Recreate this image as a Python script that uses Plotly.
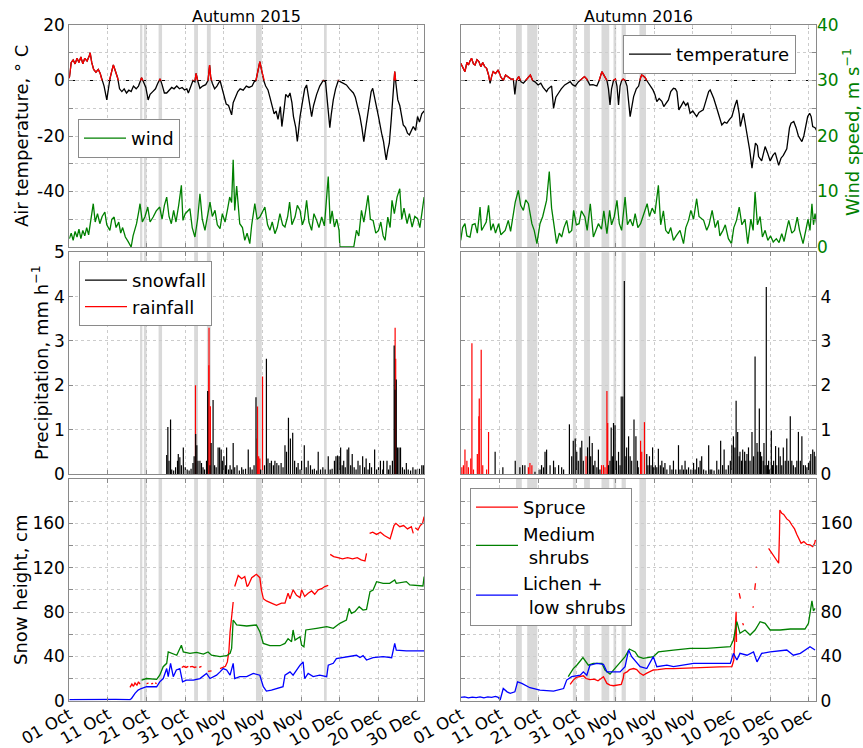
import pandas as pd
import plotly.graph_objects as go

# ---------------- data (day offset from 01 Oct, value) ----------------
temp15 = [(0,0.8),(0.5,6.5),(1.0,7.4),(1.5,6.0),(2.0,8.0),(2.5,6.5),(3.0,8.5),(3.5,6.0),(4.0,8.0),(4.6,7.0),
          (5.2,9.0),(5.4,10.0),(5.8,6.5),(6.3,4.0),(6.9,3.0),(7.5,4.0),(8.0,2.5),(8.6,0.0),(9.0,-2.0),(9.7,-7.0),
          (10.2,-1.0),(10.5,0.5),(11.0,3.5),(11.4,5.6),(11.9,3.5),(12.5,1.0),(13.0,-3.0),(13.6,-4.0),(14.2,-3.0),
          (14.8,-4.5),(15.4,-3.5),(16.0,-4.0),(16.6,-2.0),(17.3,-3.0),(17.9,-2.0),(18.4,0.2),(18.7,1.0),(19.2,-0.5),
          (19.8,-2.5),(20.4,-7.0),(20.9,-5.0),(21.6,-4.0),(22.3,-3.0),(22.9,-1.0),(23.5,0.6),(24.0,-1.5),(24.6,-4.5),
          (25.2,-4.5),(25.8,-3.5),(26.5,-2.5),(27.1,-3.0),(27.8,-2.0),(28.5,-3.0),(29.2,-2.5),(29.8,-3.4),(30.4,-3.0),
          (30.8,-4.5),(31.4,-2.0),(32.0,0.0),(32.5,-0.5),(32.8,2.6),(33.2,0.0),(33.8,-2.8),(34.5,-2.0),(35.3,-1.5),
          (35.9,0.0),(36.3,5.6),(36.6,1.0),(37.0,-1.0),(37.6,-3.0),(38.2,-2.0),(39.0,0.0),(39.6,-3.0),(40.0,-6.0),
          (40.6,-8.5),(41.2,-9.0),(42.0,-12.4),(42.4,-8.0),(42.9,-6.0),(43.6,-4.0),(44.2,-3.0),(45.0,-3.5),(45.8,-2.0),
          (46.5,-2.5),(47.3,-2.0),(47.8,-0.5),(48.3,0.0),(48.8,3.0),(49.3,6.8),(49.8,3.5),(50.3,0.0),(50.8,-2.0),
          (51.4,-3.4),(51.9,-6.0),(52.5,-9.0),(53.0,-12.0),(53.5,-11.0),(54.0,-14.0),(54.6,-9.4),(55.0,-16.6),
          (55.6,-10.0),(56.0,-5.0),(56.6,-6.0),(57.1,-4.5),(57.6,-8.0),(58.0,-13.0),(58.6,-17.0),(59.0,-22.0),
          (59.4,-17.0),(59.7,-13.0),(60.3,-8.0),(60.9,-3.0),(61.4,-1.6),(61.9,-6.0),(62.3,-10.0),(62.7,-13.0),
          (63.2,-9.0),(63.6,-7.0),(64.0,-5.0),(64.8,-2.0),(65.4,-0.5),(65.7,0.0),(66.3,-0.5),(66.8,-8.0),(67.4,-17.0),
          (67.8,-12.0),(68.3,-7.0),(68.9,-3.0),(69.6,0.0),(70.2,-0.5),(71.0,-1.0),(71.7,-1.6),(72.5,-3.0),(73.5,-4.5),
          (74.0,-6.0),(74.8,-10.0),(75.2,-13.0),(75.7,-17.0),(76.2,-22.0),(76.6,-18.0),(77.0,-14.0),(77.6,-8.0),
          (78.1,-4.0),(78.5,-2.8),(79.0,-6.0),(79.4,-9.4),(80.0,-13.0),(80.8,-19.0),(81.3,-22.0),(81.7,-26.0),
          (82.0,-28.6),(82.4,-25.0),(82.8,-22.6),(83.3,-14.0),(83.7,-6.0),(84.0,0.0),(84.2,3.2),(84.5,-1.0),(85.0,-7.0),
          (85.5,-9.0),(86.0,-13.0),(86.4,-16.0),(87.0,-17.0),(87.5,-19.0),(88.0,-19.6),(88.6,-18.0),(89.0,-16.6),
          (89.6,-18.0),(90.1,-13.0),(90.6,-15.0),(91.2,-12.0),(91.8,-11.0)]

temp16 = [(0,6.2),(0.5,5.0),(1.1,3.2),(1.6,6.5),(2.0,5.6),(2.4,7.0),(2.8,8.0),(3.3,6.0),(3.7,5.6),(4.2,7.5),
          (4.7,6.8),(5.2,5.0),(5.7,6.5),(6.2,5.0),(6.7,4.4),(7.2,2.0),(7.6,-1.0),(8.0,1.5),(8.4,3.2),(9.0,2.5),
          (9.7,3.8),(10.3,1.5),(11.0,0.0),(11.6,2.0),(12.3,1.4),(13.0,0.5),(13.6,0.5),(14.0,-5.0),(14.4,0.0),
          (15.0,1.4),(15.6,-0.5),(16.2,-1.0),(16.8,0.0),(17.3,1.0),(18.0,2.0),(18.6,0.0),(19.2,-0.5),(20.0,-1.6),
          (20.7,-1.0),(21.3,-2.5),(22.2,-4.0),(22.6,-3.0),(23.5,-2.0),(24.0,-10.0),(24.6,-6.0),(25.3,-4.5),
          (26.0,-3.0),(26.9,-1.6),(27.5,-1.0),(28.3,-0.4),(28.9,-1.5),(29.6,-2.0),(30.4,-0.5),(31.2,0.5),(32.0,1.4),
          (32.6,0.5),(33.4,-1.6),(34.2,-1.5),(35.2,-2.0),(35.8,0.0),(36.5,3.2),(37.2,1.5),(37.8,0.0),(38.2,-3.0),
          (38.6,-8.8),(39.0,-3.0),(39.5,0.0),(40.0,0.5),(40.4,-2.0),(40.8,-8.8),(41.2,-2.0),(41.6,0.0),(42.0,0.5),
          (42.5,0.0),(43.0,-2.0),(43.8,-13.0),(44.3,-8.0),(44.7,-5.8),(45.4,-3.0),(46.0,-2.0),(46.5,1.0),(46.8,2.0),
          (47.3,1.5),(47.7,1.0),(48.1,0.0),(48.9,-1.5),(49.7,-3.4),(50.2,-5.0),(50.7,-7.6),(51.3,-6.5),(52.0,-7.5),
          (52.5,-9.4),(53.2,-8.0),(53.7,-7.0),(54.3,-4.0),(55.0,-2.8),(55.5,-3.0),(55.9,-4.0),(56.4,-10.6),
          (57.0,-8.8),(57.6,-7.6),(58.2,-9.0),(58.7,-8.0),(59.3,-11.8),(60.0,-11.0),(61.0,-13.0),(61.6,-11.5),
          (62.7,-10.6),(63.5,-7.0),(64.1,-4.0),(64.5,-3.4),(65.0,-5.0),(65.4,-6.4),(66.2,-10.0),(67.0,-13.5),
          (67.5,-16.0),(68.2,-15.0),(68.8,-15.4),(69.5,-14.0),(70.1,-13.0),(70.9,-9.0),(71.4,-7.0),(72.0,-12.0),
          (72.3,-16.6),(73.1,-11.8),(74.0,-19.0),(74.7,-25.0),(75.3,-31.6),(75.8,-26.0),(76.2,-22.6),(76.7,-23.5),
          (77.0,-27.4),(77.8,-29.0),(78.3,-26.0),(78.7,-23.8),(79.3,-26.0),(80.0,-29.0),(80.7,-27.0),(81.3,-26.0),
          (82.2,-30.6),(82.8,-28.0),(83.4,-27.0),(84.0,-25.0),(84.3,-24.6),(85.0,-17.0),(85.4,-15.4),(86.1,-14.8),
          (86.7,-17.0),(87.3,-20.0),(88.2,-22.0),(88.7,-20.0),(89.2,-16.0),(89.7,-13.0),(90.2,-11.8),(90.6,-13.0),
          (91.0,-16.6),(91.6,-17.0),(92.0,-18.0)]

wind15 = [(0,1.5),(0.5,2.5),(1,1.2),(1.5,2.8),(2,1.8),(2.5,3.2),(3,1.5),(3.5,3.0),(4,2.0),(4.5,3.5),(5,2.2),
          (5.6,5.5),(6.2,7.8),(6.7,4.5),(7.3,6.0),(7.9,4.2),(8.5,5.5),(9.2,6.3),(9.7,4.0),(10.5,3.0),(11.0,5.0),
          (11.6,5.4),(12.1,3.5),(12.8,4.5),(13.3,2.5),(13.8,3.5),(14.5,1.8),(15.2,1.0),(16.0,0.0),(16.5,2.0),
          (17.4,4.2),(18.0,6.5),(18.3,7.8),(18.9,4.5),(19.6,5.5),(20.3,7.2),(20.9,4.5),(21.7,5.4),(22.5,6.5),
          (23.4,7.2),(24.0,5.0),(24.6,7.5),(25.2,9.0),(25.8,5.5),(26.4,4.2),(27.0,6.6),(27.6,4.5),(28.3,7.5),
          (29.0,11.1),(29.4,4.8),(30.0,6.0),(31.2,6.9),(31.8,3.5),(32.5,1.8),(33.2,5.0),(33.8,9.6),(34.4,5.0),
          (35.1,3.0),(35.8,6.0),(36.4,8.1),(37.0,5.5),(37.7,6.6),(38.3,4.0),(39.0,3.3),(39.6,6.0),(40.3,4.5),
          (41.0,7.0),(41.5,9.0),(42.0,8.0),(42.4,15.7),(42.8,6.6),(43.3,11.0),(44.1,4.2),(44.8,3.5),(45.4,1.2),
          (46.0,2.5),(46.7,0.6),(47.2,4.0),(48.0,7.8),(48.6,5.0),(49.3,5.4),(50.0,6.5),(50.6,7.2),(51.3,4.0),
          (51.9,3.0),(52.5,4.5),(53.2,2.4),(53.8,3.5),(54.5,6.0),(55.2,4.0),(55.8,3.6),(56.5,5.5),(57.0,8.1),
          (57.6,4.0),(58.4,5.4),(59.0,7.5),(59.7,6.6),(60.3,4.0),(60.8,5.0),(61.4,8.4),(62.0,4.5),(62.7,3.0),
          (63.3,6.0),(64.0,4.8),(64.6,3.5),(65.3,5.4),(66.0,3.8),(67.0,12.7),(67.5,4.2),(68.0,6.5),(68.6,3.6),
          (69.2,5.0),(69.8,3.0),(70.0,0.0),(73.6,0.0),(74.3,3.0),(74.9,2.0),(75.6,6.6),(76.2,4.5),(76.8,7.0),
          (77.3,9.3),(77.9,5.0),(78.6,4.8),(79.3,2.5),(80.0,3.0),(80.6,4.5),(81.2,2.0),(81.7,1.2),(82.4,5.4),
          (83.0,3.5),(83.5,8.4),(84.1,6.0),(84.8,9.0),(85.5,10.5),(86.0,5.0),(86.6,7.0),(87.4,4.2),(88.0,6.0),
          (88.7,3.6),(89.4,5.5),(90.1,5.1),(90.7,3.5),(91.3,6.5),(91.8,9.0)]

wind16 = [(0,1.2),(0.5,3.5),(1.1,4.2),(1.6,2.0),(2.4,1.8),(3.0,4.0),(3.7,4.2),(4.3,2.5),(5.0,7.2),(5.4,3.0),
          (5.9,3.6),(6.6,4.5),(7.2,7.5),(7.8,3.0),(8.4,4.2),(9.0,2.5),(9.8,4.2),(10.4,2.2),(11.5,3.0),(12.3,4.8),
          (12.9,2.8),(14.1,8.1),(14.9,10.2),(15.5,7.5),(16.2,6.6),(16.8,8.5),(17.5,7.8),(18.4,4.2),(19.0,3.0),
          (19.7,0.6),(20.5,4.2),(21.2,5.5),(22.2,8.4),(22.9,13.6),(23.5,7.0),(24.0,4.2),(24.8,0.6),(25.5,2.5),
          (26.1,1.8),(26.7,3.5),(27.4,4.8),(28.0,2.5),(28.7,3.0),(29.2,6.6),(29.9,4.0),(30.6,4.2),(31.2,6.5),
          (32.1,5.4),(32.7,3.0),(33.5,7.8),(34.3,1.8),(35.6,4.2),(36.4,3.2),(37.0,6.5),(37.8,2.4),(38.5,6.6),
          (39.0,4.0),(39.7,5.5),(40.4,8.4),(41.0,4.2),(41.6,3.0),(42.5,9.0),(43.1,4.0),(43.8,5.0),(44.5,3.8),
          (45.1,6.0),(45.8,3.5),(46.5,4.2),(47.3,6.0),(48.2,7.8),(48.8,5.5),(49.5,7.0),(50.2,6.0),(51.1,11.1),
          (51.7,4.0),(52.4,6.5),(53.0,3.0),(53.7,2.4),(54.3,3.5),(55.0,1.2),(55.7,2.0),(56.7,3.0),(57.6,0.6),
          (58.2,3.5),(58.9,4.8),(59.5,6.6),(60.2,5.0),(61.0,8.7),(61.6,5.5),(62.8,4.8),(63.6,3.0),(64.2,4.0),
          (65.0,6.6),(65.8,3.5),(66.5,4.8),(67.0,2.0),(67.8,3.0),(68.4,4.0),(69.2,1.5),(70.0,0.6),(70.6,3.5),
          (71.3,4.8),(72.0,7.2),(72.7,4.0),(73.5,5.0),(74.2,0.6),(75.0,5.0),(75.6,3.0),(76.1,9.9),(76.7,4.0),
          (77.4,5.5),(78.0,1.8),(78.7,3.0),(79.4,1.2),(80.1,2.0),(80.8,0.9),(81.6,1.5),(82.3,0.8),(83.0,2.4),
          (83.6,1.0),(84.2,3.0),(84.8,4.8),(85.6,2.5),(86.3,3.0),(87.0,5.4),(87.6,3.0),(88.5,0.6),(89.2,3.0),
          (89.8,5.0),(90.3,3.0),(90.8,7.8),(91.2,4.0),(91.6,6.0),(92.0,4.2)]

snowfall15 = [(25.2,0.43),(25.5,1.06),(25.8,0.3),(26.2,1.23),(26.5,0.1),(27.0,0.08),(27.5,0.15),(28.0,0.3),
              (28.2,0.45),(28.6,0.38),(29.0,0.2),(29.5,0.6),(30.0,0.15),(30.5,0.1),(31.0,0.08),(31.5,0.12),
              (32.0,0.25),(32.3,0.4),(32.7,0.9),(33.0,0.65),(33.3,0.3),(33.8,0.3),(34.2,0.25),(34.6,0.15),
              (35.0,0.1),(35.5,0.3),(35.8,1.87),(36.4,0.2),(36.7,0.7),(37.2,1.67),(37.6,0.2),(38.0,0.15),
              (38.5,0.6),(38.9,0.6),(39.3,0.55),(39.6,0.3),(40.0,0.4),(40.4,0.2),(40.7,0.6),(41.2,0.1),(41.6,0.2),
              (42.0,0.1),(42.4,0.7),(42.8,0.15),(43.4,0.2),(44.0,0.08),(44.6,0.15),(45.0,0.1),(45.6,0.12),
              (46.3,0.55),(46.8,0.15),(47.3,0.1),(47.8,0.2),(48.3,1.73),(49.5,0.1),(50.5,0.2),(51.0,2.6),
              (51.4,0.35),(51.9,0.25),(52.3,0.3),(52.8,0.2),(53.2,0.3),(53.7,0.25),(54.2,0.2),(54.8,0.25),
              (55.3,0.15),(55.8,0.65),(56.2,0.5),(56.7,1.27),(57.2,0.8),(57.8,0.93),(58.3,0.3),(58.8,0.15),
              (59.2,0.25),(59.7,0.1),(60.1,0.3),(60.8,0.65),(61.3,0.15),(61.8,0.3),(62.4,0.2),(62.9,0.1),
              (63.4,0.12),(64.0,0.08),(64.4,0.5),(65.0,0.1),(65.6,0.15),(66.2,0.1),(67.0,0.4),(67.5,0.1),
              (68.0,0.12),(68.6,0.3),(69.0,0.4),(69.4,0.42),(69.8,0.4),(70.2,0.6),(70.6,0.2),(71.0,0.3),
              (71.4,0.15),(71.9,0.55),(72.3,0.6),(72.8,0.2),(73.2,0.45),(73.7,0.15),(74.2,0.1),(74.7,0.3),
              (75.2,0.2),(75.9,0.4),(76.4,0.15),(76.8,0.35),(77.3,0.1),(77.7,0.25),(78.2,0.15),(79.0,0.55),
              (79.5,0.1),(80.0,0.15),(80.5,0.3),(81.1,0.1),(81.3,0.3),(82.2,0.3),(82.6,0.1),(83.0,0.2),(83.6,0.3),
              (84.05,2.9),(84.25,1.9),(84.6,2.13),(84.9,0.6),(85.3,0.6),(85.7,0.6),(86.2,0.15),(86.7,0.1),
              (87.2,0.25),(87.7,0.1),(88.3,0.08),(88.9,0.15),(89.5,0.1),(90.0,0.1),(90.6,0.12),(91.2,0.2),(91.6,0.2)]

rainfall15 = [(32.65,2.0),(36.1,2.45),(36.15,3.3),(36.5,1.53),(48.6,0.8),(48.7,1.52),(49.0,0.4),(49.3,0.35),
              (50.0,2.2),(84.3,3.3),(84.45,2.6)]

snowfall16 = [(8.9,0.5),(10.9,0.15),(14.1,0.3),(15.3,0.15),(16.0,0.2),(16.6,0.2),(19.2,0.05),(20.5,0.1),
              (20.9,0.2),(21.4,0.15),(21.8,0.5),(22.2,0.55),(23.1,0.2),(24.0,0.3),(24.4,0.15),(25.3,0.2),
              (26.1,0.15),(26.6,0.1),(28.1,1.12),(28.7,0.4),(29.1,0.75),(29.6,0.8),(30.0,0.5),(30.4,0.3),
              (30.9,0.6),(31.3,0.75),(31.7,0.3),(32.8,0.6),(33.3,0.85),(33.6,0.4),(34.0,0.7),(34.3,0.2),
              (34.7,0.3),(35.2,0.15),(35.6,0.55),(36.0,0.1),(38.2,0.2),(38.6,0.3),(38.9,1.05),(39.2,0.4),
              (39.5,1.15),(39.9,1.1),(40.3,0.3),(40.8,0.5),(41.2,0.2),(41.5,1.75),(41.9,1.75),(42.3,4.35),
              (42.7,0.4),(42.9,0.6),(43.4,0.85),(43.8,0.4),(44.2,0.3),(44.8,1.23),(45.3,0.85),(45.7,0.3),
              (45.9,0.15),(48.1,0.45),(48.4,0.2),(48.8,0.4),(49.2,0.2),(49.6,0.6),(49.9,0.15),(50.3,0.2),
              (50.7,0.15),(51.1,0.57),(51.6,0.2),(52.0,0.3),(52.4,0.15),(52.8,0.25),(53.3,0.1),(54.1,0.2),
              (54.6,0.1),(55.0,0.3),(55.6,0.1),(56.3,0.65),(56.7,0.1),(57.2,0.2),(57.6,0.1),(58.0,0.3),(58.4,0.1),
              (58.9,0.15),(59.5,0.1),(60.2,0.25),(60.6,0.1),(61.0,0.35),(61.5,0.15),(61.9,0.3),(62.3,0.4),
              (62.8,0.1),(63.4,0.08),(64.1,0.65),(64.5,0.1),(64.9,0.1),(65.5,0.08),(66.2,0.3),(66.7,0.1),
              (67.2,0.75),(67.7,0.2),(68.1,0.55),(68.6,0.1),(69.2,0.2),(69.7,0.3),(70.1,0.65),(70.5,0.85),
              (70.9,0.6),(71.2,1.65),(71.6,0.95),(72.0,0.4),(72.2,0.5),(72.6,0.3),(72.9,0.55),(73.4,0.5),
              (73.7,0.3),(74.0,0.45),(74.4,0.6),(74.8,0.3),(75.3,0.95),(75.7,0.4),(76.1,2.65),(76.6,0.7),
              (76.8,0.5),(77.2,1.48),(77.5,0.5),(77.8,0.4),(78.2,0.3),(78.4,0.7),(78.7,0.2),(79.0,4.22),
              (79.3,0.2),(79.6,0.3),(79.9,0.1),(80.3,0.98),(80.6,0.2),(80.9,0.3),(81.4,0.63),(81.7,0.2),
              (82.2,0.6),(82.6,0.4),(83.0,0.2),(83.4,0.6),(83.9,0.3),(84.3,0.8),(84.7,0.3),(85.2,1.3),(85.6,0.3),
              (86.0,0.2),(86.5,0.15),(86.9,0.3),(87.3,0.95),(87.8,0.3),(88.2,0.85),(88.6,0.2),(89.1,0.2),
              (89.5,0.15),(89.9,0.25),(90.3,0.3),(90.5,0.45),(91.0,0.55),(91.4,0.5),(91.6,0.4)]

rainfall16 = [(0.3,0.15),(0.7,0.2),(1.1,0.55),(1.6,0.3),(2.0,0.15),(2.6,0.35),(2.9,2.95),(3.3,0.1),(4.3,0.45),
              (4.7,1.3),(4.8,1.7),(5.3,2.8),(5.7,0.2),(6.7,0.1),(7.2,0.95),(17.5,0.15),(17.9,0.25),(18.4,0.2),
              (32.4,0.4),(36.4,0.2),(36.9,0.2),(37.3,0.15),(37.8,1.87),(38.0,1.15),(46.5,0.75),(46.8,0.5),(47.5,1.17)]

lichen15 = [(0,1),(4,1.2),(8,0.8),(12,1.2),(15.7,1),(16.1,2),(17.0,6.6),(17.8,9.6),(18.6,11),(20.0,12.6),
            (22.6,12.6),(23.4,17),(24.3,20),(25.2,29),(25.6,21.7),(26.2,33.7),(26.9,21.7),(27.7,27.7),(28.6,29),
            (29.3,17),(30.3,18.6),(32.1,18.6),(33.8,20),(35.5,24.6),(36.4,20),(37.2,21.7),(38.1,23),(39.0,26),
            (39.8,29),(40.7,27.7),(41.6,23),(42.4,33.7),(42.8,20),(44.1,21.7),(45.9,21.7),(47.6,24.6),(49.3,23),
            (50.2,12.6),(51.0,8.7),(52.3,9.6),(53.6,11),(55.3,12.6),(55.8,23),(57.1,26),(57.9,23),(58.8,27.7),
            (59.7,32),(60.5,35),(60.9,20),(61.8,24.6),(63.1,21.7),(64.8,23),(66.6,21.7),(67.0,32),(68.3,33.7),
            (69.1,38),(71.7,39.7),(74.3,41),(75.2,39),(76.0,40.6),(76.9,36.7),(78.6,38.8),(81.2,39.7),(83.4,38.8),
            (84.2,51.7),(84.6,45.7),(87.2,45),(91.8,45)]

shrubs15 = [(18.7,18.6),(20.0,20),(22.6,19.2),(23.4,23),(24.3,30.7),(25.2,33.7),(25.6,44),(26.5,42.7),
            (27.8,41),(29.0,50),(29.5,44),(31.2,42.7),(32.9,43.6),(34.7,42),(35.9,44),(36.8,41),(39.0,39.7),
            (40.7,40.6),(41.6,42.7),(42.0,47.2),(42.4,72.8),(43.3,68.3),(45.9,67.4),(48.4,68.3),(49.3,62.3),
            (50.2,51.7),(51.9,49.6),(54.5,49.6),(55.8,51.7),(56.6,56),(57.5,53.2),(57.9,63.8),(58.4,54.7),
            (59.7,57.7),(60.1,50.2),(60.7,48.7),(61.2,63.8),(64.0,65.3),(66.6,66.8),(68.3,65.3),(70.0,69.8),
            (71.7,72.8),(72.4,83.3),(73.0,78.8),(73.9,80.3),(75.0,84.8),(76.0,81.8),(76.9,82.4),(77.8,98.3),
            (78.6,99.8),(79.5,107.4),(81.2,105.9),(82.9,105.9),(84.2,108.9),(84.6,105.9),(87.2,107.4),
            (88.1,104.4),(91.5,103.5),(91.8,111.9)]

spruce15 = [(15.7,12),(16.2,15),(16.6,13),(17.0,16),(17.5,14),(17.9,17),(18.3,15),(None,None),
            (20.0,15.5),(20.5,15.8),(None,None),(21.2,15.3),(21.7,15.6),(None,None),(22.2,16),(22.6,15.5),(None,None),
            (29.1,30),(29.6,31),(30.2,30),(30.8,31),(None,None),(31.2,30.5),(31.8,31),(32.4,30),(32.9,30.5),(None,None),
            (33.6,30),(34.2,31),(None,None),(35.9,26.5),(36.8,27),(None,None),
            (39.0,29),(39.8,30),(40.4,31),(40.9,35),(41.3,45),(41.6,62),(42.0,77),(42.4,89),(None,None),
            (42.8,103),(43.3,108),(43.7,113),(44.6,110),(45.4,112),(46.0,103),(46.3,104),(47.2,111),(48.4,114),
            (49.3,111),(49.7,100),(50.2,92),(51.0,90),(52.3,88),(53.6,86),(54.9,88),(55.8,88),(56.6,97),(57.1,92),
            (57.9,100),(58.8,95),(59.7,93),(60.1,100),(60.9,94),(61.8,97),(62.7,99),(63.5,96),(64.4,100),
            (65.3,101),(66.1,103),(67.0,104),(None,None),
            (67.5,132),(68.4,130),(69.5,129),(70.7,128),(72.0,129),(73.3,128),(74.5,129),(75.5,127),(76.5,126),
            (76.9,133),(None,None),
            (77.7,151),(78.5,152),(79.5,150),(80.5,152),(81.5,149),(82.5,147),(83.0,146),(83.5,152),(84.0,158),
            (84.5,160),(85.5,157),(86.5,158),(87.5,155),(88.5,157),(89.0,151),(None,None),
            (89.5,156),(90.2,154),(90.8,158),(91.4,160),(91.8,166)]

lichen16 = [(0,3),(1,3.5),(2,2.5),(3,3.2),(4,2.8),(5,3.5),(6,2.5),(7,3.5),(8,3),(9,3.8),(9.7,3),(10.2,0.6),
            (11.0,11),(12.0,8),(12.8,6.6),(14.0,8),(14.7,17),(15.8,15.6),(17.9,11.7),(20.5,9.6),(24.0,8.7),
            (26.6,11),(27.4,18.6),(28.7,21.7),(30.9,23),(31.7,26),(32.6,23),(33.4,32),(35.2,33.7),(36.9,32.8),
            (37.8,26),(39.5,26),(41.2,26),(42.5,30.7),(43.4,45.7),(44.2,39.7),(46.4,30.7),(48.1,29),(49.8,39.7),
            (50.7,30.7),(53.3,32),(55.0,30.7),(60.2,33.7),(63.6,33.7),(69.7,33.7),(70.5,42.7),(71.4,36.7),
            (72.2,42.7),(74.0,41),(75.7,44),(76.6,35),(77.8,42.7),(80.0,44),(84.3,45.7),(86.0,41),(87.8,42.7),
            (90.3,48.7),(91.6,45.7)]

shrubs16 = [(27.8,21.7),(29.1,29),(30.0,32),(31.6,38.8),(33.0,32),(34.3,33.7),(36.5,33.7),(37.3,27.7),
            (38.6,24),(39.9,29),(41.2,33.7),(42.5,39.7),(43.6,46.6),(45.1,44),(45.9,39.7),(47.2,38.2),
            (49.8,39.7),(51.1,44),(55.0,45.7),(59.3,47.2),(63.6,47.2),(69.7,48.7),(70.5,54.7),(71.4,71.3),
            (72.2,60.8),(73.5,63.8),(74.8,59.2),(76.1,63.8),(77.4,71.3),(78.7,69.8),(80.0,63.8),(82.6,63.8),
            (85.2,64.7),(89.0,64.7),(89.9,69.8),(90.8,90),(91.2,80.9),(91.6,83.3)]

spruce16 = [(28.3,14.7),(29.1,18.6),(29.9,21),(30.9,22),(31.7,22.5),(32.4,20),(33.4,19),(34.5,19.5),(35.5,18),
            (36.3,20),(36.9,21.7),(37.8,15.6),(38.6,14),(39.5,13.5),(40.5,14),(41.5,14.7),(42.0,20),(42.2,24.6),
            (43.0,26),(43.6,28),(44.7,29),(45.5,28),(46.3,25),(47.2,23),(48.0,24.6),(49.0,26),(49.8,27.7),
            (51.0,28),(53.0,29),(55.0,29),(58.0,29.5),(61.0,30),(64.0,30),(67.0,30.5),(70.1,30.7),(70.6,36.7),
            (71.2,80.3),(71.3,53),(None,None),(72.0,97),(72.3,92),(None,None),(72.9,70),(73.1,68),(None,None),
            (75.5,84),(75.7,85),(None,None),(76.0,100),(76.2,106),(None,None),(76.4,120),(76.45,121),(None,None),
            (79.6,137.5),(80.3,134),(81.0,130),(81.7,127),(82.2,124),(82.4,150),(82.5,172),(83.0,169),(83.5,168),
            (84.3,164),(85.0,162),(85.6,158.5),(86.3,155),(86.9,150),(87.5,146),(88.0,142),(88.7,143.5),
            (89.5,141),(90.3,140.5),(91.0,139),(91.5,142),(91.7,145)]

bands15 = [(18.3,18.9),(19.3,20.0),(23.1,24.0),(32.3,33.3),(35.6,36.6),(48.3,49.8),(65.9,66.6)]
bands16 = [(14.3,15.8),(17.2,19.8),(29.0,29.8),(31.9,33.4),(36.4,38.4),(39.5,40.2),(41.6,42.7),(46.2,47.9)]

temp_ticks = [-60, -50, -40, -30, -20, -10, 0, 10, 20]
temp_labels = ['', '', '-40', '', '-20', '', '0', '', '20']
wind_ticks = [0, 10, 20, 30, 40]
precip_ticks = [0, 1, 2, 3, 4, 5]
snow_ticks = [0, 20, 40, 60, 80, 100, 120, 140, 160, 180, 200]
snow_labels = ['0', '', '40', '', '80', '', '120', '', '160', '', '']

BASE15 = pd.Timestamp('2015-10-01')
BASE16 = pd.Timestamp('2016-10-01')
SPAN = 91.85

# ---------------- helpers ----------------
def series(base, pairs):
    xs = [None if d is None else base + pd.Timedelta(days=d) for d, _ in pairs]
    ys = [v for _, v in pairs]
    return xs, ys

def spikes(base, pairs):
    xs, ys = [], []
    for d, v in pairs:
        t = base + pd.Timedelta(days=d)
        xs += [t, t, None]
        ys += [0, v, None]
    return xs, ys

W, H = 863, 748
xL = [69.3 / W, 424.3 / W]
xR = [460.7 / W, 816.0 / W]
row1 = [1 - 247 / H, 1 - 25 / H]
row2 = [1 - 474 / H, 1 - 252.3 / H]
row3 = [1 - 700.7 / H, 1 - 479 / H]
zero_y = row1[0] + (0 - (-60)) / 80 * (row1[1] - row1[0])

FONT = 'DejaVu Sans'
GRID = dict(showgrid=True, gridcolor='#cccccc', griddash='dot', gridwidth=1)
FRAME = dict(showline=True, linecolor='#8a8a8a', linewidth=1, mirror='ticks',
             ticks='inside', ticklen=4, tickcolor='#8a8a8a', zeroline=False, automargin=False,
             tickfont=dict(size=17, color='black', family=FONT))

fig = go.Figure()
LW = 1.3

# Row 1
x, y = series(BASE15, temp15)
fig.add_trace(go.Scatter(x=x, y=y, mode='lines', line=dict(color='black', width=LW), xaxis='x', yaxis='y', showlegend=False))
fig.add_trace(go.Scatter(x=x, y=y, mode='lines', line=dict(color='red', width=LW), xaxis='x', yaxis='y9', showlegend=False))
x, y = series(BASE15, wind15)
fig.add_trace(go.Scatter(x=x, y=y, mode='lines', line=dict(color='green', width=LW), xaxis='x', yaxis='y2',
                         name='wind', legend='legend'))
x, y = series(BASE16, temp16)
fig.add_trace(go.Scatter(x=x, y=y, mode='lines', line=dict(color='black', width=LW), xaxis='x2', yaxis='y3',
                         name='temperature', legend='legend2'))
fig.add_trace(go.Scatter(x=x, y=y, mode='lines', line=dict(color='red', width=LW), xaxis='x2', yaxis='y10', showlegend=False))
x, y = series(BASE16, wind16)
fig.add_trace(go.Scatter(x=x, y=y, mode='lines', line=dict(color='green', width=LW), xaxis='x2', yaxis='y4', showlegend=False))

# Row 2
x, y = spikes(BASE15, rainfall15)
fig.add_trace(go.Scatter(x=x, y=y, mode='lines', line=dict(color='red', width=1.2), xaxis='x3', yaxis='y5',
                         name='rainfall', legend='legend3', legendrank=2))
x, y = spikes(BASE15, snowfall15)
fig.add_trace(go.Scatter(x=x, y=y, mode='lines', line=dict(color='black', width=1.2), xaxis='x3', yaxis='y5',
                         name='snowfall', legend='legend3', legendrank=1))
x, y = spikes(BASE16, rainfall16)
fig.add_trace(go.Scatter(x=x, y=y, mode='lines', line=dict(color='red', width=1.2), xaxis='x4', yaxis='y6', showlegend=False))
x, y = spikes(BASE16, snowfall16)
fig.add_trace(go.Scatter(x=x, y=y, mode='lines', line=dict(color='black', width=1.2), xaxis='x4', yaxis='y6', showlegend=False))

# Row 3
for pairs, col in [(spruce15, 'red'), (shrubs15, 'green'), (lichen15, 'blue')]:
    x, y = series(BASE15, pairs)
    fig.add_trace(go.Scatter(x=x, y=y, mode='lines', line=dict(color=col, width=LW), xaxis='x5', yaxis='y7',
                             connectgaps=False, showlegend=False))
for pairs, col, nm, rk in [(spruce16, 'red', 'Spruce', 1), (shrubs16, 'green', 'Medium<br> shrubs', 2),
                           (lichen16, 'blue', 'Lichen +<br> low shrubs', 3)]:
    x, y = series(BASE16, pairs)
    fig.add_trace(go.Scatter(x=x, y=y, mode='lines', line=dict(color=col, width=LW), xaxis='x6', yaxis='y8',
                             connectgaps=False, name=nm, legend='legend4', legendrank=rk))

# ---------------- axes ----------------
def xax(dom, anchor, base, labels):
    d = dict(domain=dom, anchor=anchor, type='date',
             range=[base, base + pd.Timedelta(days=SPAN)],
             tick0=base, dtick=10 * 86400000, tickformat='%d %b', tickangle=-30,
             showticklabels=labels, ticklabelstandoff=-3, **GRID, **FRAME)
    d['tickfont'] = dict(size=16.5, color='black', family=FONT)
    return d

layout = dict(
    template='none',
    width=W, height=H, margin=dict(l=0, r=0, t=0, b=0, autoexpand=False),
    paper_bgcolor='white', plot_bgcolor='rgba(0,0,0,0)',
    font=dict(family=FONT, size=17, color='black'),
    xaxis=xax(xL, 'y', BASE15, False),
    xaxis2=xax(xR, 'y3', BASE16, False),
    xaxis3=xax(xL, 'y5', BASE15, False),
    xaxis4=xax(xR, 'y6', BASE16, False),
    xaxis5=xax(xL, 'y7', BASE15, True),
    xaxis6=xax(xR, 'y8', BASE16, True),
    yaxis=dict(domain=row1, anchor='x', range=[-60, 20], tickvals=temp_ticks, ticktext=temp_labels, **GRID, **FRAME),
    yaxis2=dict(overlaying='y', anchor='x', range=[0, 40], visible=False, automargin=False),
    yaxis3=dict(domain=row1, anchor='x2', range=[-60, 20], tickvals=temp_ticks, showticklabels=False, **GRID, **FRAME),
    yaxis4=dict(overlaying='y3', anchor='x2', side='right', range=[0, 40], tickvals=wind_ticks,
                showgrid=False, showline=False, ticks='inside', ticklen=4, tickcolor='#8a8a8a', zeroline=False,
                automargin=False, tickfont=dict(size=17, color='green', family=FONT)),
    yaxis5=dict(domain=row2, anchor='x3', range=[0, 5], tickvals=precip_ticks, **GRID, **FRAME),
    yaxis6=dict(domain=row2, anchor='x4', side='right', range=[0, 5], tickvals=precip_ticks,
                ticktext=['0', '1', '2', '3', '4', ''], **GRID, **FRAME),
    yaxis7=dict(domain=row3, anchor='x5', range=[0, 200], tickvals=snow_ticks, ticktext=snow_labels, **GRID, **FRAME),
    yaxis8=dict(domain=row3, anchor='x6', side='right', range=[0, 200], tickvals=snow_ticks, ticktext=snow_labels,
                **GRID, **FRAME),
    yaxis9=dict(domain=[zero_y, row1[1]], anchor='x', range=[0, 20], visible=False, automargin=False),
    yaxis10=dict(domain=[zero_y, row1[1]], anchor='x2', range=[0, 20], visible=False, automargin=False),
)

LEG = dict(bgcolor='white', bordercolor='#8a8a8a', borderwidth=1, xanchor='left', yanchor='top',
           itemwidth=42, font=dict(size=18, family=FONT, color='black'))
layout['legend'] = dict(x=78 / W, y=1 - 119 / H, **LEG)
layout['legend2'] = dict(x=623 / W, y=1 - 35 / H, **LEG)
layout['legend3'] = dict(x=79 / W, y=1 - 261 / H, **LEG)
layout['legend4'] = dict(x=470 / W, y=1 - 488 / H, **LEG)

# shapes: event bands and zero lines
shapes = []
for bands, base, xr, yrefs in [(bands15, BASE15, 'x', ['y', 'y5', 'y7']), (bands16, BASE16, 'x2', ['y3', 'y6', 'y8'])]:
    for a, b in bands:
        for yr in yrefs:
            shapes.append(dict(type='rect', xref=xr, yref=yr + ' domain',
                               x0=base + pd.Timedelta(days=a), x1=base + pd.Timedelta(days=b), y0=0, y1=1,
                               fillcolor='#d9d9d9', line=dict(width=0), layer='below'))
for xr, yr in [('x', 'y'), ('x2', 'y3')]:
    shapes.append(dict(type='line', xref=xr + ' domain', yref=yr, x0=0, x1=1, y0=0, y1=0,
                       line=dict(color='black', width=1, dash='dashdot'), layer='below'))
layout['shapes'] = shapes

ann = []
ann.append(dict(text='Autumn 2015', x=(xL[0] + xL[1]) / 2, y=1 - 17 / H, xref='paper', yref='paper',
                showarrow=False, font=dict(size=16), xanchor='center', yanchor='middle'))
ann.append(dict(text='Autumn 2016', x=(xR[0] + xR[1]) / 2, y=1 - 17 / H, xref='paper', yref='paper',
                showarrow=False, font=dict(size=16), xanchor='center', yanchor='middle'))
ann.append(dict(text='Air temperature, ° C', x=21 / W, y=1 - 136 / H, xref='paper', yref='paper',
                textangle=-90, showarrow=False, font=dict(size=18), xanchor='center', yanchor='middle'))
ann.append(dict(text='Precipitation, mm h<sup>−1</sup>', x=40 / W, y=1 - 363 / H, xref='paper', yref='paper',
                textangle=-90, showarrow=False, font=dict(size=18), xanchor='center', yanchor='middle'))
ann.append(dict(text='Snow height, cm', x=20 / W, y=1 - 590 / H, xref='paper', yref='paper',
                textangle=-90, showarrow=False, font=dict(size=18), xanchor='center', yanchor='middle'))
ann.append(dict(text='Wind speed, m s<sup>−1</sup>', x=851 / W, y=1 - 132 / H, xref='paper', yref='paper',
                textangle=-90, showarrow=False, font=dict(size=18, color='green'), xanchor='center', yanchor='middle'))
layout['annotations'] = ann

fig.update_layout(**layout)
fig.write_html('out.html', config={'displayModeBar': False},
               post_script="document.body.style.margin='0';document.body.style.padding='0';"
                           "document.documentElement.style.overflow='hidden';")
